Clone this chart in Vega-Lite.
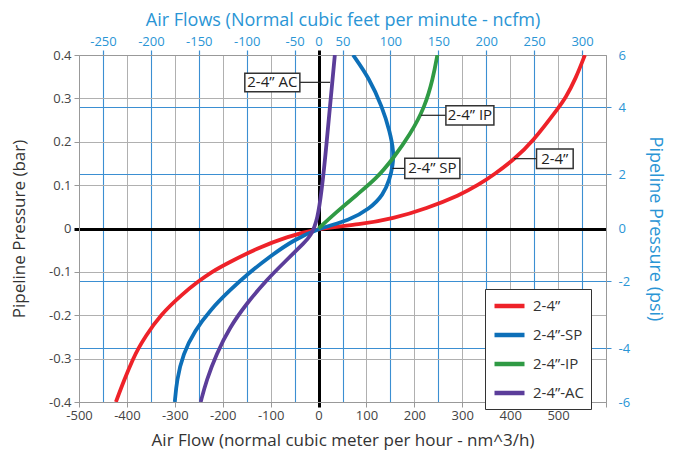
{
  "$schema": "https://vega.github.io/schema/vega-lite/v6.json",
  "width": 527,
  "height": 347,
  "autosize": {"type": "none"},
  "padding": {"left": 79, "top": 55, "right": 74, "bottom": 53},
  "background": "white",
  "config": {
    "font": "Open Sans",
    "view": {"stroke": null},
    "axis": {"labelFont": "Open Sans", "titleFont": "Open Sans", "titleFontWeight": "normal", "labelOverlap": false, "labelFlush": false, "labelBound": false}
  },
  "datasets": {
    "curves": [
      {"series": "2-4”", "x": -423, "y": -0.4},
      {"series": "2-4”", "x": -406, "y": -0.35},
      {"series": "2-4”", "x": -387, "y": -0.3},
      {"series": "2-4”", "x": -376, "y": -0.276},
      {"series": "2-4”", "x": -362, "y": -0.25},
      {"series": "2-4”", "x": -331, "y": -0.2},
      {"series": "2-4”", "x": -283, "y": -0.15},
      {"series": "2-4”", "x": -251, "y": -0.122},
      {"series": "2-4”", "x": -223, "y": -0.1},
      {"series": "2-4”", "x": -192, "y": -0.081},
      {"series": "2-4”", "x": -129, "y": -0.046},
      {"series": "2-4”", "x": -67, "y": -0.019},
      {"series": "2-4”", "x": 0, "y": 0},
      {"series": "2-4”", "x": 86, "y": 0.009},
      {"series": "2-4”", "x": 156, "y": 0.023},
      {"series": "2-4”", "x": 225, "y": 0.046},
      {"series": "2-4”", "x": 295, "y": 0.077},
      {"series": "2-4”", "x": 333, "y": 0.1},
      {"series": "2-4”", "x": 367, "y": 0.125},
      {"series": "2-4”", "x": 407, "y": 0.158},
      {"series": "2-4”", "x": 447, "y": 0.2},
      {"series": "2-4”", "x": 502, "y": 0.28},
      {"series": "2-4”", "x": 515, "y": 0.3},
      {"series": "2-4”", "x": 537, "y": 0.346},
      {"series": "2-4”", "x": 556, "y": 0.4},
      {"series": "2-4”-SP", "x": -300, "y": -0.4},
      {"series": "2-4”-SP", "x": -296, "y": -0.35},
      {"series": "2-4”-SP", "x": -283, "y": -0.289},
      {"series": "2-4”-SP", "x": -258, "y": -0.235},
      {"series": "2-4”-SP", "x": -227, "y": -0.189},
      {"series": "2-4”-SP", "x": -185, "y": -0.142},
      {"series": "2-4”-SP", "x": -147, "y": -0.104},
      {"series": "2-4”-SP", "x": -102, "y": -0.065},
      {"series": "2-4”-SP", "x": -53, "y": -0.027},
      {"series": "2-4”-SP", "x": 0, "y": 0},
      {"series": "2-4”-SP", "x": 65, "y": 0.019},
      {"series": "2-4”-SP", "x": 107, "y": 0.046},
      {"series": "2-4”-SP", "x": 135, "y": 0.077},
      {"series": "2-4”-SP", "x": 149, "y": 0.115},
      {"series": "2-4”-SP", "x": 155, "y": 0.146},
      {"series": "2-4”-SP", "x": 157, "y": 0.177},
      {"series": "2-4”-SP", "x": 149, "y": 0.223},
      {"series": "2-4”-SP", "x": 133, "y": 0.28},
      {"series": "2-4”-SP", "x": 106, "y": 0.346},
      {"series": "2-4”-SP", "x": 72, "y": 0.4},
      {"series": "2-4”-IP", "x": 0, "y": 0},
      {"series": "2-4”-IP", "x": 37.6, "y": 0.038},
      {"series": "2-4”-IP", "x": 79, "y": 0.077},
      {"series": "2-4”-IP", "x": 121, "y": 0.115},
      {"series": "2-4”-IP", "x": 156, "y": 0.162},
      {"series": "2-4”-IP", "x": 191, "y": 0.216},
      {"series": "2-4”-IP", "x": 222, "y": 0.28},
      {"series": "2-4”-IP", "x": 239, "y": 0.346},
      {"series": "2-4”-IP", "x": 248, "y": 0.4},
      {"series": "2-4”-AC", "x": -246, "y": -0.4},
      {"series": "2-4”-AC", "x": -234, "y": -0.35},
      {"series": "2-4”-AC", "x": -213, "y": -0.289},
      {"series": "2-4”-AC", "x": -185, "y": -0.227},
      {"series": "2-4”-AC", "x": -150, "y": -0.173},
      {"series": "2-4”-AC", "x": -109, "y": -0.119},
      {"series": "2-4”-AC", "x": -67, "y": -0.073},
      {"series": "2-4”-AC", "x": -32, "y": -0.035},
      {"series": "2-4”-AC", "x": 0, "y": 0},
      {"series": "2-4”-AC", "x": 17, "y": 0.2},
      {"series": "2-4”-AC", "x": 34, "y": 0.4}
    ],
    "labels": [
      {"label": "2-4” AC", "x": -96.5, "y": 0.337, "bx0": -153.9, "bx1": -39, "by0": 0.3155, "by1": 0.358, "lx0": -39, "lx1": 24},
      {"label": "2-4” IP", "x": 316, "y": 0.261, "bx0": 265.8, "bx1": 366, "by0": 0.2386, "by1": 0.283, "lx0": 214, "lx1": 265.8},
      {"label": "2-4” SP", "x": 237.5, "y": 0.1386, "bx0": 180, "bx1": 295, "by0": 0.1155, "by1": 0.1617, "lx0": 154, "lx1": 180},
      {"label": "2-4”", "x": 493, "y": 0.161, "bx0": 455, "bx1": 531.5, "by0": 0.1386, "by1": 0.183, "lx0": 408, "lx1": 455}
    ]
  },
  "layer": [
    {
      "data": {"name": "curves"},
      "mark": {"type": "line", "strokeWidth": 3.8, "interpolate": "basis", "clip": true},
      "encoding": {
        "x": {
          "field": "x", "type": "quantitative",
          "scale": {"domain": [-500, 600], "nice": false, "zero": false},
          "axis": {
            "orient": "bottom",
            "title": "Air Flow (normal cubic meter per hour - nm^3/h)",
            "titleFontSize": 17, "titleColor": "#333333", "titlePadding": 10,
            "values": [-500, -400, -300, -200, -100, 0, 100, 200, 300, 400, 500, 600],
            "labelExpr": "datum.value == 600 ? '' : '' + datum.value",
            "labelFontSize": 13, "labelColor": "#444444", "labelPadding": 2,
            "domainColor": "#999999",
            "tickSize": 5,
            "tickColor": {"condition": {"test": "datum.value == 0", "value": "#000000"}, "value": "#999999"},
            "tickWidth": {"condition": {"test": "datum.value == 0", "value": 3}, "value": 1},
            "grid": true,
            "gridColor": {"condition": {"test": "datum.value == 0", "value": "#000000"}, "value": "#b0b0b0"},
            "gridWidth": {"condition": {"test": "datum.value == 0", "value": 3}, "value": 1},
            "gridOpacity": 1
          }
        },
        "y": {
          "field": "y", "type": "quantitative",
          "scale": {"domain": [-0.4, 0.4], "nice": false, "zero": false},
          "axis": {
            "orient": "left",
            "title": "Pipeline Pressure (bar)",
            "titleFontSize": 17, "titleColor": "#333333", "titlePadding": 20,
            "values": [-0.4, -0.3, -0.2, -0.1, 0, 0.1, 0.2, 0.3, 0.4],
            "labelExpr": "'' + datum.value",
            "labelFontSize": 13, "labelColor": "#444444", "labelPadding": 3,
            "domainColor": "#999999",
            "tickSize": 5,
            "tickColor": {"condition": {"test": "datum.value == 0", "value": "#000000"}, "value": "#999999"},
            "tickWidth": {"condition": {"test": "datum.value == 0", "value": 3}, "value": 1},
            "grid": true,
            "gridColor": {"condition": {"test": "datum.value == 0", "value": "#000000"}, "value": "#b0b0b0"},
            "gridWidth": {"condition": {"test": "datum.value == 0", "value": 3}, "value": 1},
            "gridOpacity": 1
          }
        },
        "color": {
          "field": "series", "type": "nominal",
          "scale": {"domain": ["2-4”", "2-4”-SP", "2-4”-IP", "2-4”-AC"], "range": ["#ee2229", "#0d6fb8", "#2f9a44", "#5b3d9a"]},
          "legend": {
            "title": null, "orient": "none", "legendX": 406, "legendY": 234,
            "symbolType": "M-1,0H3", "symbolSize": 225, "symbolStrokeWidth": 4.5,
            "labelFont": "Open Sans", "labelFontSize": 15, "labelColor": "#333333", "labelOffset": 21,
            "labelExpr": "datum.label + '\u2007\u2007\u2007'",
            "padding": 7, "rowPadding": 10,
            "strokeColor": "#333333", "fillColor": "white"
          }
        },
        "order": {"field": "y", "type": "quantitative"}
      }
    },
    {
      "data": {"name": "labels"},
      "layer": [
        {
          "mark": {"type": "rule", "color": "#222222", "strokeWidth": 1.2},
          "encoding": {
            "x": {
              "field": "lx0", "type": "quantitative",
              "scale": {"domain": [-500, 600], "nice": false, "zero": false},
              "axis": {
                "orient": "top",
                "title": "Air Flows (Normal cubic feet per minute - ncfm)",
                "titleFontSize": 18, "titleColor": "#2a95d5", "titlePadding": 6,
                "values": [-450, -350, -250, -150, -50, 0, 50, 150, 250, 350, 450, 550],
                "labelExpr": "datum.value == 0 ? '0' : '' + ((datum.value + (datum.value > 0 ? 50 : -50)) / 2)",
                "labelFontSize": 13, "labelColor": "#2a95d5", "labelPadding": 2,
                "domainColor": "#999999",
                "tickSize": 5,
                "tickColor": {"condition": {"test": "datum.value == 0", "value": "#000000"}, "value": "#3b8fd2"},
                "tickWidth": {"condition": {"test": "datum.value == 0", "value": 3}, "value": 1.2},
                "grid": true,
                "gridColor": "#3b8fd2",
                "gridWidth": 1.1,
                "gridOpacity": {"condition": {"test": "datum.value == 0", "value": 0}, "value": 1}
              }
            },
            "x2": {"field": "lx1"},
            "y": {
              "field": "y", "type": "quantitative",
              "scale": {"domain": [-0.4, 0.4], "nice": false, "zero": false},
              "axis": {
                "orient": "right",
                "title": "Pipeline Pressure (psi)",
                "titleFontSize": 18, "titleColor": "#2a95d5", "titlePadding": 16,
                "values": [-0.4, -0.276, -0.122, 0, 0.125, 0.28, 0.4],
                "labelExpr": "datum.value == 0.4 ? '6' : datum.value == 0.28 ? '4' : datum.value == 0.125 ? '2' : datum.value == 0 ? '0' : datum.value == -0.122 ? '-2' : datum.value == -0.276 ? '-4' : '-6'",
                "labelFontSize": 13, "labelColor": "#2a95d5", "labelPadding": 7,
                "domainColor": "#999999",
                "tickSize": 5,
                "tickColor": "#3b8fd2",
                "tickOpacity": {"condition": {"test": "datum.value == 0 || datum.value == 0.4 || datum.value == -0.4", "value": 0}, "value": 1},
                "grid": true,
                "gridColor": "#3b8fd2",
                "gridWidth": 1.1,
                "gridOpacity": {"condition": {"test": "datum.value == 0 || datum.value == 0.4 || datum.value == -0.4", "value": 0}, "value": 1}
              }
            }
          }
        },
        {
          "mark": {"type": "rect", "fill": "white", "stroke": "#333333", "strokeWidth": 1.5},
          "encoding": {
            "x": {"field": "bx0", "type": "quantitative"},
            "x2": {"field": "bx1"},
            "y": {"field": "by0", "type": "quantitative"},
            "y2": {"field": "by1"}
          }
        },
        {
          "mark": {"type": "text", "font": "Open Sans", "fontSize": 15, "color": "#222222", "align": "center", "baseline": "middle"},
          "encoding": {
            "x": {"field": "x", "type": "quantitative"},
            "y": {"field": "y", "type": "quantitative"},
            "text": {"field": "label"}
          }
        }
      ]
    }
  ],
  "resolve": {
    "scale": {"x": "independent", "y": "independent"},
    "axis": {"x": "independent", "y": "independent"}
  }
}
